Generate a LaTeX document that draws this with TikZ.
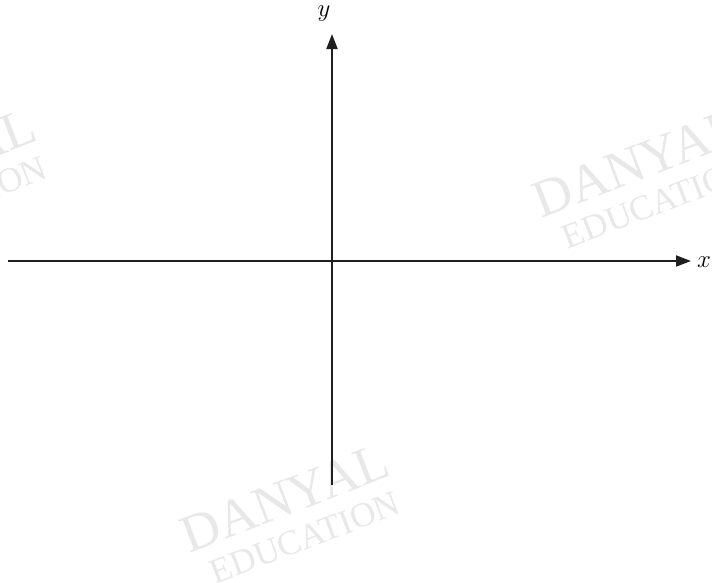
\documentclass[tikz,border=0pt]{standalone}
\usepackage{fontspec}
\setmainfont{Liberation Serif}
\usetikzlibrary{arrows.meta}
\begin{document}
\begin{tikzpicture}[x=1pt,y=1pt,
  axis/.style={line width=1.9pt,draw=black!88,-{Triangle[length=15pt,width=11pt]}},
  wmA/.style={text=black!9,rotate=21,font=\fontsize{53}{53}\selectfont,inner sep=0pt},
  wmB/.style={text=black!9,rotate=21,font=\fontsize{35}{35}\selectfont,inner sep=0pt},
  lab/.style={font=\fontsize{24}{24}\selectfont,inner sep=0pt}]
\useasboundingbox (0,0) rectangle (712,-582);
% watermarks
\foreach \dx/\dy/\n in {0/0/a,352/335/b,-353/335/c}{
  \node[wmA] (wd\n) at (285+\dx,-498+\dy) {DANYAL};
  \node[wmB] (we\n) at (305+\dx,-538+\dy) {EDUCATION};
}
% axes
\coordinate (xl) at (8,-261);
\coordinate (xr) at (691,-261);
\coordinate (yb) at (332,-485);
\coordinate (yt) at (332,-34);
\draw[axis] (xl) -- (xr);
\draw[axis] (yb) -- (yt);
\node[lab] (xlab) at (704,-262) {$x$};
\node[lab] (ylab) at (324,-14) {$y$};
\end{tikzpicture}
\end{document}
